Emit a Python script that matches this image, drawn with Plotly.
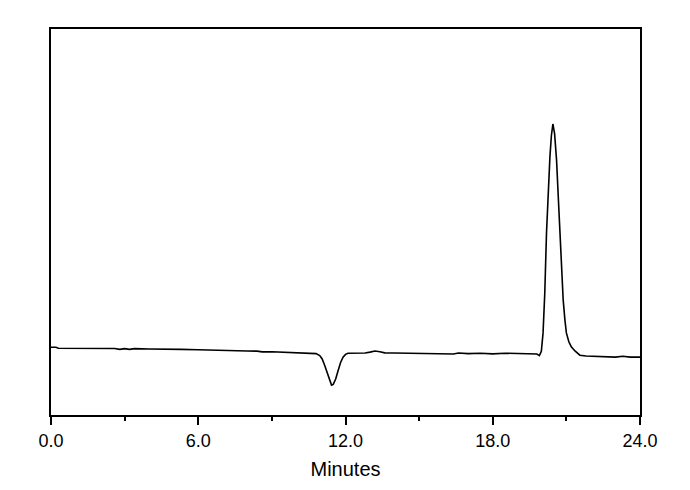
import plotly.graph_objects as go

# Retention time (minutes) and detector response (arbitrary units)
time_min = [0.0, 0.2, 0.3, 1.5, 2.6, 2.8, 3.0, 3.2, 3.4, 4.0, 4.8, 5.0, 5.3, 6.0,
            6.9, 7.1, 7.5, 8.0, 8.4, 8.6, 9.0, 9.5, 10.0, 10.5, 10.8,
            10.95, 11.05, 11.15, 11.25, 11.35, 11.43, 11.5, 11.6, 11.7, 11.8, 11.9, 12.0, 12.1,
            12.4, 12.8, 13.0, 13.2, 13.4, 13.6, 14.0, 14.5, 15.0, 15.5, 16.0, 16.4, 16.6,
            17.0, 17.5, 18.0, 18.5, 19.0, 19.5, 19.8, 19.9,
            19.98, 20.05, 20.12, 20.19, 20.26, 20.33, 20.39, 20.45, 20.52, 20.6, 20.67,
            20.73, 20.8, 20.87, 20.94, 21.0, 21.1, 21.2, 21.35, 21.55, 21.8, 22.2, 22.6,
            23.0, 23.3, 23.6, 24.0]
response = [16.85, 16.85, 16.6, 16.6, 16.55, 16.3, 16.5, 16.3, 16.5, 16.4, 16.35, 16.5, 16.3, 16.2,
            16.1, 16.0, 16.15, 15.9, 15.85, 15.65, 15.7, 15.6, 15.4, 15.3, 15.2,
            14.7, 13.8, 12.2, 10.2, 8.2, 7.0, 7.2, 8.6, 10.8, 12.9, 14.3, 15.0, 15.3,
            15.3, 15.35, 15.6, 15.9, 15.7, 15.4, 15.35, 15.3, 15.35, 15.2, 15.3, 15.1, 15.35,
            15.2, 15.3, 15.15, 15.3, 15.2, 15.2, 15.1, 14.7,
            15.8, 20.6, 31.0, 46.6, 58.5, 66.5, 72.0, 75.0, 72.5, 65.6, 56.0,
            46.6, 37.0, 29.2, 24.0, 20.6, 18.3, 17.0, 15.9, 14.8, 14.6, 14.5, 14.5,
            14.3, 14.5, 14.3, 14.3]

x_ticks = [0, 6, 12, 18, 24]
x_ticktext = ["0.0", "6.0", "12.0", "18.0", "24.0"]

fig = go.Figure(go.Scatter(x=time_min, y=response, mode="lines",
                           line=dict(color="black", width=1.6), showlegend=False))

fig.update_layout(
    width=690, height=490,
    margin=dict(l=43, r=58, t=21, b=83),
    paper_bgcolor="white", plot_bgcolor="white",
    font=dict(family="Liberation Sans, Arial, sans-serif", color="black"),
)
fig.update_xaxes(
    range=[0, 24], tickvals=x_ticks, ticktext=x_ticktext,
    ticks="outside", ticklen=8, tickwidth=1.5, tickcolor="black",
    minor=dict(dtick=3, tick0=0, ticks="outside", ticklen=4, tickwidth=1.5, tickcolor="black"),
    showline=True, linecolor="black", linewidth=2, mirror=True,
    showgrid=False, zeroline=False,
    tickfont=dict(size=18),
    title=dict(text="Minutes", font=dict(size=20), standoff=12),
)
fig.update_yaxes(
    range=[-0.78, 99.74], showticklabels=False, ticks="",
    showline=True, linecolor="black", linewidth=2, mirror=True,
    showgrid=False, zeroline=False,
)

fig.write_html("out.html")
